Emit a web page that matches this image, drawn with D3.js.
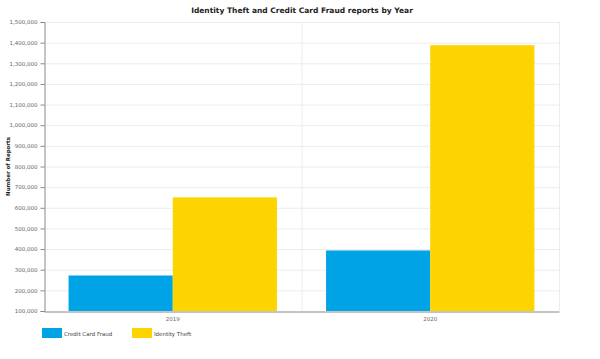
<!DOCTYPE html>
<html><head><meta charset="utf-8">
<script src="https://cdn.jsdelivr.net/npm/d3@7"></script>
<style>body{margin:0;background:#fff}svg{display:block}</style>
</head><body>
<svg id="c" width="600" height="359"></svg>
<script>
const years = ["2019", "2020"];
const seriesNames = ["Credit Card Fraud", "Identity Theft"];
const creditCardFraud = [271927, 393207];
const identityTheft = [650572, 1387615];
const yTicks = [100000,200000,300000,400000,500000,600000,700000,800000,900000,1000000,1100000,1200000,1300000,1400000,1500000];
const colors = ["#00A3E6", "#FDD300"];

const svg = d3.select("#c");
const m = {l:44, r:559, t:22, b:311};
const x = d3.scaleBand().domain(years).range([m.l, m.r]).paddingInner(0).paddingOuter(0);
const x1 = d3.scaleBand().domain(seriesNames).range([0, x.bandwidth()]).paddingOuter(0.236).paddingInner(0);
const y = d3.scaleLinear().domain([100000, 1500000]).range([m.b, m.t]);
const fmt = d3.format(",");

// grid
svg.append("g").selectAll("line").data(yTicks.slice(1)).join("line")
  .attr("x1", m.l).attr("x2", m.r).attr("y1", d=>y(d)+0.5).attr("y2", d=>y(d)+0.5)
  .attr("stroke", "#ececec").attr("stroke-width", 1);
svg.append("g").selectAll("line").data(years).join("line")
  .attr("x1", d=>x(d)+x.bandwidth()+0.5).attr("x2", d=>x(d)+x.bandwidth()+0.5)
  .attr("y1", m.t).attr("y2", m.b).attr("stroke", "#ececec");

// bars
const data = years.map((yr,i)=>({yr, vals:[creditCardFraud[i], identityTheft[i]]}));
const g = svg.append("g");
data.forEach(d=>{
  d.vals.forEach((v,j)=>{
    g.append("rect")
      .attr("x", x(d.yr)+x1(seriesNames[j]))
      .attr("width", x1.bandwidth())
      .attr("y", y(v)).attr("height", y(100000)-y(v))
      .attr("fill", colors[j]);
  });
});

// y axis
const ya = d3.axisLeft(y).tickValues(yTicks).tickFormat(fmt).tickSize(4).tickPadding(3);
const yg = svg.append("g").attr("transform", `translate(${m.l+0.5},0)`).call(ya);
yg.select(".domain").attr("stroke", "#888");
yg.selectAll(".tick line").attr("stroke", "#888");
yg.selectAll("text").attr("font-family","Verdana, DejaVu Sans, sans-serif").attr("font-size","5.5px").attr("fill","#666");

// x axis
const xa = d3.axisBottom(x).tickSize(0).tickPadding(6);
const xg = svg.append("g").attr("transform", `translate(0,${m.b+0.5})`).call(xa);
xg.select(".domain").attr("stroke", "#888");
xg.selectAll("text").attr("font-family","Verdana, DejaVu Sans, sans-serif").attr("font-size","5.5px").attr("fill","#666");

// title
svg.append("text").attr("x", 302).attr("y", 13).attr("text-anchor","middle")
  .attr("font-family","DejaVu Sans, sans-serif").attr("font-weight","bold").attr("font-size","7.5px")
  .attr("fill","#222").text("Identity Theft and Credit Card Fraud reports by Year");

// y label
svg.append("text").attr("transform", `translate(10,${(m.t+m.b)/2}) rotate(-90)`).attr("text-anchor","middle")
  .attr("font-family","DejaVu Sans, sans-serif").attr("font-weight","bold").attr("font-size","5.5px")
  .attr("fill","#222").text("Number of Reports");

// legend
const lg = svg.append("g");
seriesNames.forEach((s,i)=>{
  const lx = 42 + i*90;
  lg.append("rect").attr("x", lx).attr("y", 328).attr("width", 20).attr("height", 10).attr("fill", colors[i]);
  lg.append("text").attr("x", lx+22).attr("y", 335.5).attr("font-family","Verdana, DejaVu Sans, sans-serif")
    .attr("font-size","5.5px").attr("fill","#444").text(s);
});
</script>
</body></html>
